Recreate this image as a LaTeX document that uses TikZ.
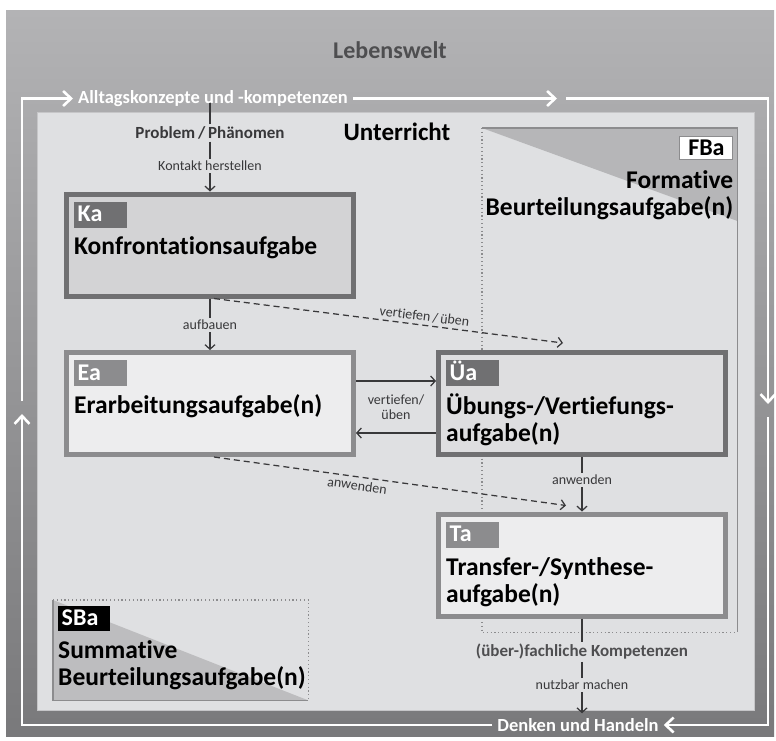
\documentclass[tikz,border=0pt]{standalone}
\usepackage{fontspec}
\setmainfont{Carlito}[Ligatures=NoCommon]
\usetikzlibrary{positioning, arrows.meta}
\definecolor{worldtop}{HTML}{B3B3B5}
\definecolor{worldbottom}{HTML}{79797B}
\definecolor{worldtext}{HTML}{4E4E50}
\definecolor{paneltone}{HTML}{DFE0E2}
\definecolor{panelrim}{HTML}{C6C6C8}
\definecolor{darkrim}{HTML}{707072}
\definecolor{lightrim}{HTML}{8C8C8E}
\definecolor{darkfill}{HTML}{D3D3D5}
\definecolor{midfill}{HTML}{DEDEE0}
\definecolor{lightfill}{HTML}{EDEDEE}
\definecolor{labeltone}{HTML}{38383A}
\definecolor{wedgetone}{HTML}{B6B6B8}

\begin{document}
\begin{tikzpicture}[x=1pt,y=-1pt,
  task/.style={draw=#1, line width=5pt, minimum width=287pt, minimum height=102pt, inner sep=0pt},
  badge/.style={fill=#1, text=white, anchor=north west, font=\bfseries\fontsize{24}{26}\selectfont,
    text width=46pt, text height=16pt, text depth=2pt, inner xsep=3.5pt, inner ysep=4pt},
  title/.style={anchor=base west, align=left, inner sep=0pt, font=\bfseries\fontsize{25.5}{27}\selectfont},
  small label/.style={text=labeltone, inner sep=2pt, font=\fontsize{14}{15.5}\selectfont},
  bold label/.style={text=labeltone, inner sep=2pt, font=\bfseries\fontsize{17}{19}\selectfont},
  world label/.style={text=white, inner sep=5pt, font=\bfseries\fontsize{18.5}{20}\selectfont},
  plain/.style={draw=labeltone, line width=1.25pt},
  link/.style={plain, -{Straight Barb[length=4.5pt, width=10pt]}},
  hint/.style={link, dash pattern=on 6pt off 4pt},
  worldline/.style={draw=white, line width=2.6pt, -{Straight Barb[length=8pt, width=15pt]}},
  rimline/.style={draw=lightrim, line width=1.4pt},
  dotline/.style={draw=lightrim, line width=1.2pt, dash pattern=on 1.2pt off 2.6pt}
]
\useasboundingbox (0,0) rectangle (776,740);
\fill[top color=worldtop, bottom color=worldbottom] (6,10) rectangle (774,736);
\node[text=worldtext, font=\bfseries\fontsize{24}{26}\selectfont] (lebenswelt) at (390,50) {Lebenswelt};
\node[draw=panelrim, fill=paneltone, minimum width=717pt, minimum height=598pt, inner sep=0pt, anchor=north west] (panel) at (37,112) {};
\node[font=\bfseries\fontsize{25}{27}\selectfont] (unterricht) at (397,132) {Unterricht};

\node[world label, anchor=west] (alltag) at (73,98.5) {Alltagskonzepte und -kompetenzen};
\node[world label] (denken) at (578,725) {Denken und Handeln};
\coordinate (top_tip) at (557,98.5);
\coordinate (top_resume) at (566,98.5);
\coordinate (right_tip) at (768,404);
\coordinate (right_resume) at (768,417);
\coordinate (left_tip) at (22,414);
\coordinate (left_resume) at (22,401);
\draw[worldline] (left_resume) |- (alltag.west);
\draw[worldline] (alltag.east) -- (top_tip);
\draw[worldline] (top_resume) -| (right_tip);
\draw[worldline] (right_resume) |- (denken.east);
\draw[worldline] (denken.west) -| (left_tip);

\node[minimum width=255pt, minimum height=504pt, inner sep=0pt, anchor=north west] (fba_area) at (482,128) {};
\fill[wedgetone] (fba_area.north west) -- (fba_area.north east) -- ([yshift=-93pt]fba_area.north east) -- cycle;
\draw[rimline] (fba_area.north west) -- (fba_area.north east) -- (fba_area.south east);
\draw[dotline] (fba_area.north west) -- (fba_area.south west) -- (fba_area.south east);
\node[draw=lightrim, fill=white, line width=1pt, anchor=north east, minimum width=53pt, minimum height=23pt, inner sep=1pt,
  font=\bfseries\fontsize{24}{26}\selectfont] (fba_tag) at ([xshift=-4pt,yshift=-8pt]fba_area.north east) {FBa};
\node[title, anchor=base east, align=right] (fba_title) at ([yshift=-55pt]fba_tag.south east) {Formative\\Beurteilungsaufgabe(n)};

\node[minimum width=255pt, minimum height=100pt, inner sep=0pt, anchor=north west] (sba_area) at (53,600) {};
\fill[wedgetone!90!white] (sba_area.north west) -- (sba_area.south east) -- (sba_area.south west) -- cycle;
\draw[rimline] (sba_area.north west) -- (sba_area.south west) -- (sba_area.south east);
\draw[dotline] (sba_area.north west) -- (sba_area.north east) -- (sba_area.south east);
\node[badge=black, text width=45pt, text height=15pt] (sba_tag) at ([xshift=5pt,yshift=-6pt]sba_area.north west) {SBa};
\node[title] (sba_title) at ([yshift=-54pt]sba_tag.south west) {Summative\\Beurteilungsaufgabe(n)};

\node[task=darkrim, fill=darkfill] (k_a) at (210,245) {};
\node[badge=darkrim] (k_a_tag) at ([xshift=10pt,yshift=-10pt]k_a.north west) {Ka};
\node[title] (k_a_title) at ([yshift=-27pt]k_a_tag.south west) {Konfrontationsaufgabe};

\node[task=lightrim, fill=lightfill] (e_a) at (210,403.5) {};
\node[badge=lightrim] (e_a_tag) at ([xshift=10pt,yshift=-10pt]e_a.north west) {Ea};
\node[title] (e_a_title) at ([yshift=-27pt]e_a_tag.south west) {Erarbeitungsaufgabe(n)};

\node[task=darkrim, fill=midfill] (u_a) at (582,403.5) {};
\node[badge=darkrim] (u_a_tag) at ([xshift=10pt,yshift=-10pt]u_a.north west) {Üa};
\node[title] (u_a_title) at ([yshift=-55pt]u_a_tag.south west) {Übungs-/Vertiefungs-\\aufgabe(n)};

\node[task=lightrim, fill=lightfill] (t_a) at (582,565) {};
\node[badge=lightrim] (t_a_tag) at ([xshift=10pt,yshift=-10pt]t_a.north west) {Ta};
\node[title] (t_a_title) at ([yshift=-55pt]t_a_tag.south west) {Transfer-/Synthese-\\aufgabe(n)};

\node[bold label] (problem) at (210,133) {Problem\,/\,Phänomen};
\node[small label] (kontakt) at (210,166) {Kontakt herstellen};
\draw[plain] (problem.north) -- (problem.north |- alltag.base);
\draw[plain] (problem) -- (kontakt);
\draw[link] (kontakt) -- (k_a);

\node[small label] (aufbauen) at (210,325) {aufbauen};
\draw[plain] (k_a) -- (aufbauen);
\draw[link] (aufbauen) -- (e_a);

\draw[link] ([yshift=22.5pt]e_a.east) -- ([yshift=22.5pt]e_a.east -| u_a.west);
\draw[link] ([yshift=-29.5pt]u_a.west) -- ([yshift=-29.5pt]u_a.west -| e_a.east);
\node[small label, align=center] (vertiefen) at (396,407) {vertiefen/\\üben};

\draw[hint] ([xshift=4pt]k_a.south) -- node[small label, sloped, above=1pt, pos=0.6] (vertiefen_hint) {vertiefen\,/\,üben} ([xshift=-19pt,yshift=7pt]u_a.north);
\draw[hint] ([xshift=4pt]e_a.south) -- node[small label, sloped, below=1pt, pos=0.41] (anwenden_hint) {anwenden} ([xshift=-16pt,yshift=6pt]t_a.north);

\node[small label] (anwenden) at (582,480) {anwenden};
\draw[plain] (u_a) -- (anwenden);
\draw[link] (anwenden) -- (t_a);

\node[bold label, text=worldtext] (kompetenzen) at (582,652) {(über-)fachliche Kompetenzen};
\node[small label] (nutzbar) at (582,685) {nutzbar machen};
\draw[plain] (t_a) -- (kompetenzen);
\draw[plain] (kompetenzen) -- (nutzbar);
\draw[link] (nutzbar) -- (nutzbar |- denken.north);
\end{tikzpicture}
\end{document}
